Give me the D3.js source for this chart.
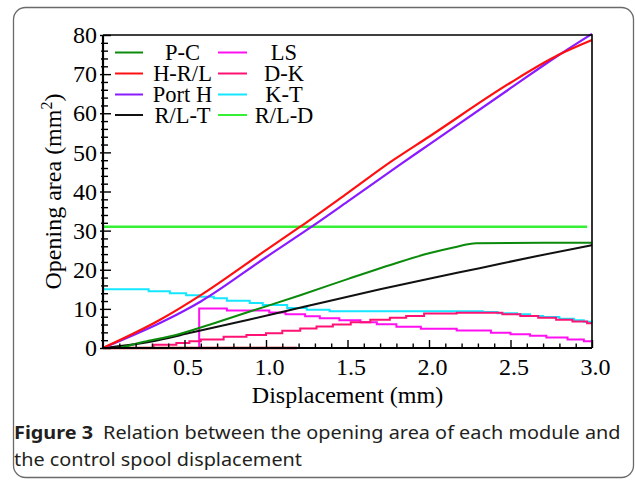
<!DOCTYPE html>
<html>
<head>
<meta charset="utf-8">
<script src="https://cdn.jsdelivr.net/npm/d3@7"></script>
<style>
  body { margin: 0; background: #fff; }
  svg { display: block; }
</style>
</head>
<body>
<svg id="chart" width="635" height="480"></svg>
<script>
// Opening area (mm^2) of each valve module against spool displacement (mm)
const pcData   = [[0,0],[0.07,0],[0.25,1.6],[0.47,3.6],[0.7,6.6],[0.93,9.7],[1.21,13.5],[1.5,17.6],[1.7,20.4],[1.82,22.0],[2.0,24.2],[2.15,25.7],[2.29,26.8],[3.0,26.9]];
const hrlData  = [[0,0],[0.35,7.2],[0.6,13.5],[1.0,25.0],[1.21,31.0],[1.5,39.6],[1.78,48.0],[2.0,54.0],[2.5,67.8],[2.79,74.8],[3.0,78.7]];
const portHData = [[0,0],[0.39,7.2],[0.6,11.9],[1.0,23.2],[1.28,31.0],[1.5,37.4],[1.82,46.8],[2.0,52.0],[2.5,66.4],[2.79,74.7],[3.0,80.3]];
const rltData  = [[0,0],[0.29,1.6],[0.55,4.0],[0.9,7.3],[1.24,10.6],[1.7,15.0],[2.0,17.7],[2.31,20.4],[2.65,23.4],[3.0,26.3]];
const lsData   = [[0,0],[0.59,10.1],[0.76,9.6],[1.02,9.1],[1.12,8.6],[1.24,8.1],[1.33,7.6],[1.45,7.1],[1.58,6.6],[1.68,6.1],[1.8,5.4],[1.95,4.9],[2.17,4.5],[2.38,3.9],[2.5,3.5],[2.62,3.1],[2.72,2.7],[2.85,2.2],[2.95,1.7],[3.0,1.7]];
const dkData   = [[0,0],[0.31,0.8],[0.45,1.3],[0.53,1.7],[0.6,2.2],[0.74,2.9],[0.88,3.3],[1.0,3.8],[1.1,4.4],[1.21,5.0],[1.31,5.5],[1.41,6.0],[1.52,6.6],[1.64,7.2],[1.76,7.7],[1.86,8.2],[1.97,8.8],[2.17,9.0],[2.37,9.0],[2.45,8.6],[2.56,8.2],[2.67,7.7],[2.78,7.2],[2.88,6.8],[2.97,6.3],[3.0,6.3]];
const ktData   = [[0,15.0],[0.28,14.5],[0.41,14.0],[0.51,13.5],[0.59,13.1],[0.68,12.7],[0.76,12.1],[0.9,11.5],[0.98,11.0],[1.13,10.2],[1.25,9.8],[1.39,9.4],[2.33,9.2],[2.42,8.9],[2.54,8.6],[2.62,8.2],[2.7,7.9],[2.8,7.5],[2.89,7.1],[2.95,6.7],[3.0,6.5]];
const rldData  = [[0,31.0],[2.97,31.0]];
const zeroTrace = [[0,0],[1.19,0]];

const legendLeft  = ["P-C", "H-R/L", "Port H", "R/L-T"];
const legendRight = ["LS", "D-K", "K-T", "R/L-D"];

const xMajorTicks = [0.5, 1.0, 1.5, 2.0, 2.5, 3.0];
const yMajorTicks = [0, 10, 20, 30, 40, 50, 60, 70, 80];

const colors = {
  "P-C": "#0b8a0b", "H-R/L": "#ff1010", "Port H": "#8a1aff", "R/L-T": "#111111",
  "LS": "#ff10f0", "D-K": "#ff1273", "K-T": "#14e6ff", "R/L-D": "#36f036"
};

const series = [
  { name: "R/L-D",  data: rldData,   step: false, w: 2.4 },
  { name: "K-T",    data: ktData,    step: true,  w: 2 },
  { name: "LS",     data: lsData,    step: true,  w: 2 },
  { name: "zero",   data: zeroTrace, step: false, w: 2.4, color: "#c80000" },
  { name: "D-K",    data: dkData,    step: true,  w: 2 },
  { name: "R/L-T",  data: rltData,   step: false, w: 2 },
  { name: "P-C",    data: pcData,    step: false, w: 2 },
  { name: "Port H", data: portHData, step: false, w: 2.2 },
  { name: "H-R/L",  data: hrlData,   step: false, w: 2.2 }
];

const svg = d3.select("#chart");
const serif = "'Liberation Serif', 'Times New Roman', serif";

// Rounded panel border
svg.append("rect")
  .attr("x", 13.5).attr("y", 7.5).attr("width", 620).attr("height", 470)
  .attr("rx", 12).attr("ry", 12)
  .attr("fill", "none").attr("stroke", "#6a6a6a").attr("stroke-width", 1.3);

const plot = { left: 103, right: 592, top: 35, bottom: 348 };

const x = d3.scaleLinear().domain([0, 3.0]).range([plot.left, plot.right]);
const y = d3.scaleLinear().domain([0, 80]).range([plot.bottom, plot.top]);

const xMinor = d3.range(1, 31).map(i => i / 10).filter(v => Math.round(v * 10) % 5 !== 0);
const yMinor = d3.range(0, 81, 2).filter(v => v % 10 !== 0);

// Curves
const lineSmooth = d3.line().x(d => x(d[0])).y(d => y(d[1])).curve(d3.curveMonotoneX);
const lineStep = d3.line().x(d => x(d[0])).y(d => y(d[1])).curve(d3.curveStepAfter);

const curves = svg.append("g");
series.forEach(s => {
  curves.append("path")
    .attr("d", (s.step ? lineStep : lineSmooth)(s.data))
    .attr("fill", "none")
    .attr("stroke", s.color || colors[s.name])
    .attr("stroke-width", s.w)
    .attr("stroke-linejoin", "miter");
});

// Frame
svg.append("path")
  .attr("d", `M${plot.left},${plot.top}H${plot.right}V${plot.bottom}`)
  .attr("fill", "none").attr("stroke", "#000").attr("stroke-width", 1.6);

// X axis (ticks point inward)
const xAxisG = svg.append("g").attr("transform", `translate(0,${plot.bottom})`);
xAxisG.append("g").call(d3.axisBottom(x).tickValues(xMinor).tickSize(-4.5).tickFormat(""));
const xMaj = xAxisG.append("g").call(
  d3.axisBottom(x).tickValues(xMajorTicks).tickSize(-8).tickPadding(10).tickFormat(d3.format(".1f"))
);
xAxisG.selectAll(".domain").remove();
xAxisG.selectAll("line").attr("stroke", "#000").attr("stroke-width", 1.4);
xMaj.selectAll("text")
  .attr("dx", 3)
  .attr("font-family", serif).attr("font-size", 24).attr("fill", "#000");

// Y axis (ticks cross the axis line)
const yAxisG = svg.append("g").attr("transform", `translate(${plot.left},0)`);
yAxisG.append("g").call(d3.axisLeft(y).tickValues(yMinor).tickSize(-5).tickFormat(""));
yAxisG.append("g").call(d3.axisLeft(y).tickValues(yMinor).tickSize(2).tickFormat(""));
yAxisG.append("g").call(d3.axisLeft(y).tickValues(yMajorTicks).tickSize(3).tickFormat(""));
const yMaj = yAxisG.append("g").call(
  d3.axisLeft(y).tickValues(yMajorTicks).tickSize(-8).tickPadding(6).tickFormat(d3.format("d"))
);
yAxisG.selectAll(".domain").remove();
yAxisG.selectAll("line").attr("stroke", "#000").attr("stroke-width", 1.4);
yMaj.selectAll("text")
  .attr("font-family", serif).attr("font-size", 24).attr("fill", "#000");

// Axis lines
svg.append("path")
  .attr("d", `M${plot.left},${plot.top}V${plot.bottom}H${plot.right}`)
  .attr("fill", "none").attr("stroke", "#000").attr("stroke-width", 2.2);

// Axis titles
svg.append("text")
  .attr("x", (plot.left + plot.right) / 2).attr("y", 403)
  .attr("text-anchor", "middle")
  .attr("font-family", serif).attr("font-size", 24).attr("fill", "#000")
  .text("Displacement (mm)");

const yTitle = svg.append("text")
  .attr("transform", `translate(61,${(plot.top + plot.bottom) / 2}) rotate(-90)`)
  .attr("text-anchor", "middle")
  .attr("font-family", serif).attr("font-size", 24).attr("fill", "#000");
yTitle.append("tspan").text("Opening area (mm");
yTitle.append("tspan").attr("font-size", 16).attr("dy", -9).text("2");
yTitle.append("tspan").attr("dy", 9).text(")");

// Legend
const legend = svg.append("g").attr("font-family", serif).attr("font-size", 22.5);
const rowBase = [60, 81, 102, 122.5];
function legendColumn(names, lineX0, lineX1, textX) {
  names.forEach((n, i) => {
    const b = rowBase[i];
    legend.append("line")
      .attr("x1", lineX0).attr("x2", lineX1)
      .attr("y1", b - 7.5).attr("y2", b - 7.5)
      .attr("stroke", colors[n]).attr("stroke-width", 2);
    legend.append("text")
      .attr("x", textX).attr("y", b)
      .attr("text-anchor", "middle").attr("fill", "#000")
      .text(n);
  });
}
legendColumn(legendLeft, 115, 143, 182.5);
legendColumn(legendRight, 218, 247, 284);

// Caption
const sans = "'Noto Sans', 'Open Sans', sans-serif";
const cap = svg.append("g");
const line1 = cap.append("text")
  .attr("x", 0).attr("y", 0)
  .attr("font-family", sans).attr("font-size", 18).attr("fill", "#231f20");
line1.append("tspan").attr("font-weight", "bold").text("Figure 3");
line1.append("tspan").attr("dx", 9).text("Relation between the opening area of each module and");
const line2 = cap.append("text")
  .attr("x", 0).attr("y", 27)
  .attr("font-family", sans).attr("font-size", 18).attr("fill", "#231f20")
  .text("the control spool displacement");
const natural = line1.node().getComputedTextLength() + 9;
const sx = 607 / natural;
cap.attr("transform", `translate(14,439) scale(${sx},1)`);
</script>
</body>
</html>
